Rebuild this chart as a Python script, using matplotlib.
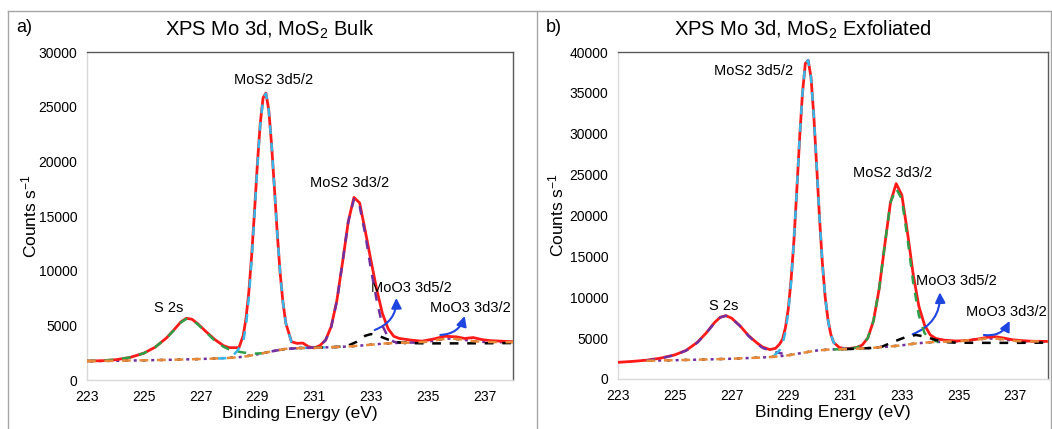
import matplotlib.pyplot as plt
from matplotlib.lines import Line2D

plt.rcParams['font.family'] = ['Liberation Sans', 'DejaVu Sans']
plt.rcParams['mathtext.fontset'] = 'custom'
plt.rcParams['mathtext.rm'] = 'Liberation Sans'
plt.rcParams['mathtext.it'] = 'Liberation Sans:italic'
plt.rcParams['mathtext.bf'] = 'Liberation Sans:bold'

# ---------------- a) MoS2 bulk ----------------
a_env_E = [223.0, 223.5, 224.0, 224.5, 225.0, 225.4, 225.8, 226.1, 226.3, 226.5, 226.7, 226.9,
           227.2, 227.5, 227.8, 228.0, 228.35, 228.5, 228.6, 228.7, 228.8, 228.9, 229.0, 229.1,
           229.2, 229.3, 229.4, 229.5, 229.6, 229.7, 229.8, 229.9, 230.0, 230.2, 230.4, 230.6,
           230.8, 231.0, 231.2, 231.4, 231.6, 231.8, 232.0, 232.2, 232.4, 232.6, 232.8, 233.0,
           233.2, 233.4, 233.6, 233.8, 234.0, 234.4, 234.8, 235.2, 235.6, 236.0, 236.3, 236.6,
           236.9, 237.2, 237.6, 238.0]
a_env_C = [1740, 1760, 1850, 2050, 2450, 3000, 3850, 4700, 5300, 5650, 5550, 5150,
           4400, 3700, 3150, 2960, 2960, 4050, 5660, 8100, 11460, 15500, 19800, 23450,
           25800, 26250, 24700, 21500, 17500, 13400, 9800, 7100, 5200, 3500, 3350, 3380,
           3050, 2930, 3150, 3650, 4900, 7300, 10800, 14500, 16700, 16200, 13600, 10900,
           8300, 6100, 4700, 4000, 3800, 3650, 3550, 3750, 4000, 3950, 3800, 3880,
           3700, 3600, 3550, 3500]

a_s2s_E = [223.0, 223.5, 224.0, 224.5, 225.0, 225.4, 225.8, 226.1, 226.3, 226.5, 226.7, 226.9,
           227.2, 227.5, 227.8, 228.0, 228.4, 228.8, 229.2, 229.5]
a_s2s_C = [1740, 1770, 1860, 2060, 2450, 3000, 3850, 4650, 5250, 5600, 5500, 5100,
           4350, 3600, 3050, 2800, 2560, 2400, 2450, 2620]

a_d52_E = [227.6, 227.8, 228.0, 228.2, 228.3, 228.4, 228.5, 228.6, 228.7, 228.8, 228.9, 229.0,
           229.1, 229.2, 229.3, 229.4, 229.5, 229.6, 229.7, 229.8, 229.9, 230.0, 230.2, 230.4,
           230.6, 230.8, 231.0, 231.4]
a_d52_C = [1960, 1990, 2020, 2400, 2700, 3100, 3500, 5000, 7600, 11100, 15200, 19600,
           23300, 25700, 26200, 24700, 21500, 17500, 13400, 9800, 7100, 5200, 3460, 3000,
           2930, 2930, 2950, 2990]

a_d32_E = [229.5, 230.0, 230.5, 231.0, 231.2, 231.4, 231.6, 231.8, 232.0, 232.2, 232.4, 232.6,
           232.8, 233.0, 233.2, 233.4, 233.6, 233.8, 234.0, 234.5]
a_d32_C = [2620, 2850, 2920, 2990, 3150, 3630, 4850, 7250, 10800, 14500, 16550, 15900,
           13300, 10100, 7300, 5000, 3900, 3500, 3400, 3430]

a_moo3_52_E = [231.0, 231.5, 232.0, 232.2, 232.5, 232.8, 233.0, 233.2, 233.5, 233.8, 234.2, 235.0,
               236.0, 237.0, 238.0]
a_moo3_52_C = [2950, 2990, 3050, 3150, 3500, 4050, 4200, 4100, 3800, 3500, 3380, 3350,
               3350, 3360, 3380]

a_bg_E = [223, 224, 225, 226, 227, 228, 228.5, 229, 229.5, 230, 230.5, 231, 231.5, 232, 232.5,
          233, 233.5, 234, 234.5, 235, 235.4, 235.8, 236.2, 236.6, 237, 237.5, 238]
a_bg_C = [1720, 1760, 1800, 1850, 1920, 2020, 2120, 2350, 2620, 2850, 2920, 2950, 2990, 3040, 3120,
          3230, 3340, 3400, 3430, 3500, 3700, 3800, 3700, 3550, 3480, 3460, 3460]

# ---------------- b) MoS2 exfoliated ----------------
b_env_E = [223.0, 223.5, 224.0, 224.5, 225.0, 225.4, 225.8, 226.1, 226.4, 226.6, 226.8, 227.0,
           227.3, 227.6, 227.9, 228.1, 228.35, 228.55, 228.7, 228.8, 228.9, 229.0, 229.1, 229.2,
           229.3, 229.4, 229.5, 229.6, 229.7, 229.8, 229.9, 230.0, 230.1, 230.2, 230.3, 230.4,
           230.5, 230.6, 230.8, 231.0, 231.2, 231.4, 231.6, 231.8, 232.0, 232.2, 232.4, 232.6,
           232.8, 233.0, 233.2, 233.4, 233.6, 233.8, 234.0, 234.2, 234.5, 234.9, 235.3, 235.7,
           236.0, 236.3, 236.6, 236.9, 237.2, 237.6, 238.0, 238.15]
b_env_C = [2040, 2150, 2300, 2550, 2950, 3500, 4500, 5600, 6900, 7550, 7750, 7450,
           6500, 5300, 4400, 3900, 3600, 3750, 4300, 4900, 6300, 8600, 12200, 17000,
           23100, 29500, 35000, 38600, 39000, 36900, 32100, 26000, 19700, 14200, 10000, 7200,
           5430, 4460, 3850, 3720, 3760, 3850, 4140, 5000, 7100, 11000, 16430, 21600,
           23900, 22500, 17900, 12800, 8900, 6600, 5400, 4950, 4750, 4650, 4700, 4900,
           5100, 5180, 5000, 4800, 4700, 4620, 4600, 4600]

b_s2s_E = [224.0, 224.5, 225.0, 225.4, 225.8, 226.1, 226.4, 226.6, 226.8, 227.0, 227.3, 227.6,
           227.9, 228.1, 228.35, 228.6, 228.8]
b_s2s_C = [2260, 2520, 2930, 3480, 4470, 5570, 6870, 7530, 7740, 7440, 6480, 5270,
           4300, 3800, 3500, 3250, 3100]

b_d52_E = [228.5, 228.6, 228.7, 228.8, 228.9, 229.0, 229.1, 229.2, 229.3, 229.4, 229.5, 229.6,
           229.7, 229.8, 229.9, 230.0, 230.1, 230.2, 230.3, 230.4, 230.5, 230.6, 230.8, 231.0,
           231.5]
b_d52_C = [2900, 3180, 3560, 4340, 5770, 8210, 11920, 16990, 23100, 29500, 35000, 38600,
           39000, 36900, 32100, 26000, 19700, 14200, 10000, 7200, 5430, 4460, 3800, 3680,
           3720]

b_d32_E = [230.6, 231.0, 231.2, 231.4, 231.6, 231.8, 232.0, 232.2, 232.4, 232.6, 232.8, 233.0,
           233.2, 233.4, 233.6, 233.8, 234.0, 234.3]
b_d32_C = [3620, 3650, 3700, 3850, 4140, 5000, 7100, 11000, 16430, 21600, 23300, 22000,
           17200, 11800, 7800, 5620, 4800, 4550]

b_moo3_52_E = [231.0, 232.0, 232.3, 232.7, 233.0, 233.2, 233.5, 233.8, 234.2, 234.6, 234.9, 236.0,
               237.0, 238.15]
b_moo3_52_C = [3650, 3800, 3950, 4550, 4950, 5200, 5380, 5200, 4770, 4500, 4440, 4420,
               4420, 4450]

b_bg_E = [224.0, 225, 226, 227, 228, 228.5, 229, 229.5, 230, 230.5, 231, 231.5, 232, 232.5, 233,
          233.5, 234, 234.5, 235, 235.5, 236, 236.3, 236.7, 237, 237.5, 238, 238.15]
b_bg_C = [2230, 2300, 2380, 2480, 2620, 2720, 2900, 3200, 3480, 3620, 3650, 3720, 3820, 3950, 4120,
          4350, 4500, 4560, 4620, 4800, 4950, 4950, 4800, 4650, 4600, 4600, 4600]

x_ticks = [223, 225, 227, 229, 231, 233, 235, 237]

RED = '#ff1a1a'
BLUE = '#35b6e8'
PURPLE = '#7030a0'
GREEN = '#2e9e48'
ORANGE = '#e8893a'
ARROW = '#1f45e0'
DASH = (0, (3.5, 3.5))

W, H = 1052, 429
fig = plt.figure(figsize=(W / 100, H / 100), dpi=100)


def px_axes(x0, y0, x1, y1):
    return fig.add_axes([x0 / W, 1 - y1 / H, (x1 - x0) / W, (y1 - y0) / H])


def style_axes(ax, xmax, ymax):
    ax.set_xlim(223, xmax)
    ax.set_ylim(0, ymax)
    ax.set_xticks(x_ticks)
    ax.set_yticks(range(0, ymax + 1, 5000))
    ax.tick_params(length=0, labelsize=10, pad=7)
    ax.spines['top'].set_color('#595959')
    ax.spines['right'].set_color('#595959')
    ax.spines['left'].set_color('#d9d9d9')
    ax.spines['bottom'].set_color('#d9d9d9')
    for s in ax.spines.values():
        s.set_linewidth(1.0)
    ax.set_xlabel('Binding Energy (eV)', fontsize=12.5)
    ax.xaxis.set_label_coords(0.5, -0.08)
    ax.set_ylabel('Counts s$^{-1}$', fontsize=12.5)


def arrow(ax, tail, head):
    ax.annotate('', xy=head, xytext=tail,
                arrowprops=dict(arrowstyle='-|>,head_length=0.6,head_width=0.3',
                                color=ARROW, lw=1.5, mutation_scale=10,
                                shrinkA=0, shrinkB=0,
                                connectionstyle='arc3,rad=0.35'))


# ---- panel a
ax1 = px_axes(87, 52, 513, 380)
style_axes(ax1, 238, 30000)
ax1.yaxis.set_label_coords(-0.111, 0.5)
ax1.plot(a_bg_E, a_bg_C, color=PURPLE, lw=1.8, ls=(2.3, (1.2, 5.8)), zorder=2)
ax1.plot(a_bg_E, a_bg_C, color='black', lw=1.8, ls=(5.8, (1.2, 5.8)), zorder=2)
ax1.plot(a_env_E, a_env_C, color=RED, lw=2.0, zorder=3)
ax1.plot(a_s2s_E, a_s2s_C, color=GREEN, lw=1.8, ls=DASH, zorder=4)
ax1.plot(a_d52_E, a_d52_C, color=BLUE, lw=1.8, ls=DASH, zorder=4)
ax1.plot(a_d32_E, a_d32_C, color=PURPLE, lw=1.8, ls=DASH, zorder=4)
ax1.plot(a_moo3_52_E, a_moo3_52_C, color='black', lw=1.8, ls=DASH, zorder=4)
ax1.plot(a_bg_E, a_bg_C, color=ORANGE, lw=1.8, ls=DASH, zorder=4)

ax1.text(229.58, 27450, 'MoS2 3d5/2', fontsize=10.5, ha='center', va='center')
ax1.text(232.25, 18000, 'MoS2 3d3/2', fontsize=10.5, ha='center', va='center')
ax1.text(225.88, 6560, 'S 2s', fontsize=10.5, ha='center', va='center')
ax1.text(233.01, 8440, 'MoO3 3d5/2', fontsize=10.5, ha='left', va='center')
ax1.text(235.06, 6610, 'MoO3 3d3/2', fontsize=10.5, ha='left', va='center')
arrow(ax1, (233.13, 4575), (233.89, 7500))
arrow(ax1, (235.44, 4120), (236.30, 5860))

# ---- panel b
ax2 = px_axes(618, 52, 1048, 379)
style_axes(ax2, 238.15, 40000)
ax2.yaxis.set_label_coords(-0.119, 0.5)
ax2.plot(b_bg_E, b_bg_C, color=PURPLE, lw=1.8, ls=(2.3, (1.2, 5.8)), zorder=2)
ax2.plot(b_bg_E, b_bg_C, color='black', lw=1.8, ls=(5.8, (1.2, 5.8)), zorder=2)
ax2.plot(b_env_E, b_env_C, color=RED, lw=2.0, zorder=3)
ax2.plot(b_s2s_E, b_s2s_C, color=PURPLE, lw=1.8, ls=DASH, zorder=4)
ax2.plot(b_d52_E, b_d52_C, color=BLUE, lw=1.8, ls=DASH, zorder=4)
ax2.plot(b_d32_E, b_d32_C, color=GREEN, lw=1.8, ls=DASH, zorder=4)
ax2.plot(b_moo3_52_E, b_moo3_52_C, color='black', lw=1.8, ls=DASH, zorder=4)
ax2.plot(b_bg_E, b_bg_C, color=ORANGE, lw=1.8, ls=DASH, zorder=4)

ax2.text(227.77, 37700, 'MoS2 3d5/2', fontsize=10.5, ha='center', va='center')
ax2.text(232.67, 25240, 'MoS2 3d3/2', fontsize=10.5, ha='center', va='center')
ax2.text(226.73, 8970, 'S 2s', fontsize=10.5, ha='center', va='center')
ax2.text(233.49, 12020, 'MoO3 3d5/2', fontsize=10.5, ha='left', va='center')
ax2.text(235.25, 8160, 'MoO3 3d3/2', fontsize=10.5, ha='left', va='center')
arrow(ax2, (233.38, 5470), (234.34, 10600))
arrow(ax2, (235.89, 5380), (236.80, 7100))

# titles, panel letters and panel frames
fig.text(270 / W, 1 - 30 / H, 'XPS Mo 3d, MoS$_2$ Bulk', fontsize=14.5, ha='center', va='center')
fig.text(803 / W, 1 - 30 / H, 'XPS Mo 3d, MoS$_2$ Exfoliated', fontsize=14.5, ha='center', va='center')
fig.text(16 / W, 1 - 27 / H, 'a)', fontsize=13, ha='left', va='center')
fig.text(546 / W, 1 - 27 / H, 'b)', fontsize=13, ha='left', va='center')
frame = dict(color='#a6a6a6', lw=1.0, transform=fig.transFigure)
fig.add_artist(Line2D([8 / W, 1051 / W], [1 - 10.7 / H, 1 - 10.7 / H], **frame))
fig.add_artist(Line2D([8 / W, 8 / W], [0, 1 - 10.7 / H], **frame))
fig.add_artist(Line2D([537 / W, 537 / W], [0, 1 - 10.7 / H], **frame))
fig.add_artist(Line2D([1051 / W, 1051 / W], [0, 1 - 10.7 / H], **frame))

plt.savefig('out.png', dpi=100)
